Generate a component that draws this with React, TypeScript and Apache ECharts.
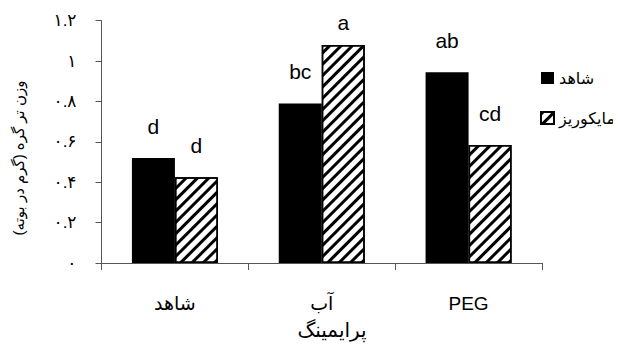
import React, { useEffect, useRef } from "react";
import * as echarts from "echarts";

const categories = ["شاهد", "آب", "PEG"];
const seriesNames = ["شاهد", "مایکوریز"];
const controlValues = [0.52, 0.79, 0.945];
const mycorrhizaValues = [0.425, 1.08, 0.585];
const controlLetters = ["d", "bc", "ab"];
const mycorrhizaLetters = ["d", "a", "cd"];
const yMin = 0;
const yMax = 1.2;
const yInterval = 0.2;
const xTitle = "پرایمینگ";
const yTitle = "وزن تر گره (گرم در بوته)";

const FONT = "Liberation Sans, Arial, DejaVu Sans, sans-serif";
const persianDigits = "۰۱۲۳۴۵۶۷۸۹";
const toPersian = (s: string) => s.replace(/[0-9]/g, (d) => persianDigits[Number(d)]);

export default function App() {
  const ref = useRef<HTMLDivElement>(null);
  useEffect(() => {
    if (!ref.current) return;
    const chart = echarts.init(ref.current, undefined, { renderer: "svg" });
    const labelData = (vals: number[], letters: string[]) =>
      vals.map((v, i) => ({
        value: v,
        label: { formatter: letters[i], distance: letters[i] === "a" ? 12 : 21 },
      }));
    chart.setOption({
      animation: false,
      backgroundColor: "#fff",
      textStyle: { fontFamily: FONT },
      grid: { left: 101.5, right: 79, top: 20.7, bottom: 93, containLabel: false },
      legend: {
        orient: "vertical",
        left: 540,
        top: 70,
        padding: 0,
        itemGap: 24,
        itemWidth: 13,
        itemHeight: 12,
        icon: "rect",
        data: seriesNames,
        textStyle: { fontSize: 16, color: "#000", fontFamily: FONT },
      },
      xAxis: {
        type: "category",
        data: categories,
        axisLine: { lineStyle: { color: "#555", width: 1 } },
        axisTick: { show: true, length: 7, lineStyle: { color: "#555" } },
        axisLabel: {
          color: "#000",
          fontSize: 19,
          margin: 31,
          fontFamily: FONT,
        },
      },
      yAxis: {
        type: "value",
        min: yMin,
        max: yMax,
        interval: yInterval,
        splitLine: { show: false },
        axisLine: { show: true, lineStyle: { color: "#555", width: 1 } },
        axisTick: { show: true, length: 6, lineStyle: { color: "#555" } },
        axisLabel: {
          color: "#000",
          fontSize: 17,
          margin: 25,
          fontFamily: FONT,
          formatter: (v: number) => toPersian(String(Math.round(v * 10) / 10)),
        },
      },
      graphic: [
        {
          type: "text",
          x: 18,
          y: 158,
          rotation: Math.PI / 2,
          style: {
            text: yTitle + "\u200F",
            textAlign: "center",
            textVerticalAlign: "middle",
            fontSize: 15,
            fontFamily: FONT,
            fill: "#000",
          },
        },
        {
          type: "text",
          x: 332,
          y: 330,
          style: {
            text: xTitle,
            textAlign: "center",
            textVerticalAlign: "middle",
            fontSize: 20,
            fontFamily: FONT,
            fill: "#000",
          },
        },
      ],
      series: [
        {
          name: seriesNames[0],
          type: "bar",
          barWidth: 43,
          barGap: "0%",
          itemStyle: { color: "#000" },
          label: { show: true, position: "top", color: "#000", fontSize: 21, fontFamily: FONT },
          data: labelData(controlValues, controlLetters),
        },
        {
          name: seriesNames[1],
          type: "bar",
          barWidth: 43,
          barGap: "0%",
          itemStyle: {
            color: "#fff",
            borderColor: "#000",
            borderWidth: 1.5,
            decal: {
              symbol: "rect",
              symbolSize: 1,
              dashArrayX: [1, 0],
              dashArrayY: [3, 5],
              rotation: -Math.PI / 4,
              color: "#000",
            },
          },
          label: { show: true, position: "top", color: "#000", fontSize: 21, fontFamily: FONT },
          data: labelData(mycorrhizaValues, mycorrhizaLetters),
        },
      ],
    });
    return () => chart.dispose();
  }, []);
  return <div ref={ref} style={{ width: 621, height: 356, margin: -8 }} />;
}
